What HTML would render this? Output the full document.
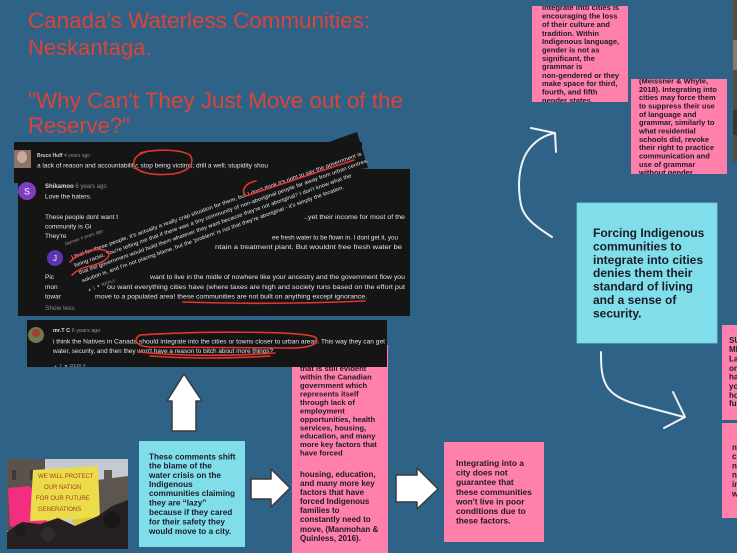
<!DOCTYPE html>
<html><head><meta charset="utf-8">
<style>
html,body{margin:0;padding:0;width:737px;height:553px;overflow:hidden;background:#2e6287;}
svg{display:block}
text{font-family:"Liberation Sans",Arial,sans-serif;}
.b{font-weight:bold;fill:#1b1b26}
.c{fill:#e4e4e4}
</style></head><body>
<svg width="737" height="553" viewBox="0 0 737 553" xmlns="http://www.w3.org/2000/svg">
<defs>
<clipPath id="cA"><rect x="532" y="6" width="96" height="96"/></clipPath>
<clipPath id="cB"><rect x="631" y="79" width="96" height="95"/></clipPath>
<clipPath id="cM"><rect x="27" y="320" width="360" height="47"/></clipPath>
</defs>
<rect width="737" height="553" fill="#2e6287"/>

<!-- Title -->
<g font-size="22" fill="#db4437">
<text x="28" y="28" textLength="342" lengthAdjust="spacingAndGlyphs">Canada's Waterless Communities:</text>
<text x="28" y="55">Neskantaga.</text>
<text x="28" y="108" textLength="375" lengthAdjust="spacingAndGlyphs">"Why Can't They Just Move out of the</text>
<text x="28" y="133">Reserve?"</text>
</g>

<!-- Pink box 1 (behind comment) -->
<rect x="292" y="345" width="96" height="215" fill="#ff80ab"/>
<g class="b" font-size="7.6">
<text class="b" x="300" y="371">that is still evident</text>
<text class="b" x="300" y="379.4">within the Canadian</text>
<text class="b" x="300" y="388">government which</text>
<text class="b" x="300" y="396.4">represents itself</text>
<text class="b" x="300" y="405">through lack of</text>
<text class="b" x="300" y="413.7">employment</text>
<text class="b" x="300" y="422">opportunities, health</text>
<text class="b" x="300" y="430.4">services, housing,</text>
<text class="b" x="300" y="438.7">education, and many</text>
<text class="b" x="300" y="447">more key factors that</text>
<text class="b" x="300" y="455.4">have forced</text>
</g>
<g font-size="8">
<text class="b" x="300" y="476.8">housing, education,</text>
<text class="b" x="300" y="485.8">and many more key</text>
<text class="b" x="300" y="494.8">factors that have</text>
<text class="b" x="300" y="503.8">forced Indigenous</text>
<text class="b" x="300" y="513.1">families to</text>
<text class="b" x="300" y="522.1">constantly need to</text>
<text class="b" x="300" y="531.8">move, (Manmohan &amp;</text>
<text class="b" x="300" y="540.8">Quinless, 2016).</text>
</g>

<!-- Comment screenshots -->
<polygon points="329,142 357,132 368,168 340,171" fill="#161616"/>
<rect x="14" y="142" width="348" height="41" fill="#151515"/>
<rect x="18" y="169" width="392" height="147" fill="#151515"/>
<rect x="14" y="150" width="17" height="18" fill="#8a7468"/>
<ellipse cx="22" cy="157" rx="5" ry="6" fill="#c9a79a"/>
<text x="37" y="157" font-size="5" fill="#cfcfcf" font-weight="bold">Bruce Huff <tspan fill="#8c8c8c" font-weight="normal">4 years ago</tspan></text>
<text x="37" y="167.5" font-size="6.3" class="c" textLength="231" lengthAdjust="spacingAndGlyphs">a lack of reason and accountability;  stop being victims;  drill a well;  stupidity shou</text>

<circle cx="27" cy="191" r="9" fill="#7e3fbf"/>
<text x="27" y="194.5" font-size="9" fill="#fff" text-anchor="middle">S</text>
<text x="45" y="188" font-size="6" fill="#d8d8d8" font-weight="bold">Shikamoo <tspan fill="#8c8c8c" font-weight="normal">6 years ago</tspan></text>
<g font-size="6.5">
<text class="c" x="45" y="198.5">Love the haters.</text>
<text class="c" x="45" y="219">These people dont want t</text>
<text class="c" x="304" y="219" textLength="101" lengthAdjust="spacingAndGlyphs">..yet their income for most of the</text>
<text class="c" x="45" y="228.5">community is Gi</text>
<text class="c" x="45" y="238">They're</text>
<text class="c" x="272" y="239.5" textLength="126" lengthAdjust="spacingAndGlyphs">ee fresh water to be flown in.  I dont get it, you</text>
<text class="c" x="215" y="249" textLength="187" lengthAdjust="spacingAndGlyphs">ntain a treatment plant.  But wouldnt free fresh water be</text>
<text class="c" x="45" y="279">Pic</text>
<text class="c" x="150" y="279" textLength="255" lengthAdjust="spacingAndGlyphs">want to live in the midle of nowhere like your ancestry and the government flow you</text>
<text class="c" x="45" y="289">mon</text>
<text class="c" x="107" y="289" textLength="298" lengthAdjust="spacingAndGlyphs">ou want everything cities have (where taxes are high and society runs based on the effort put</text>
<text class="c" x="45" y="298.5">towar</text>
<text class="c" x="95" y="298.5" textLength="272" lengthAdjust="spacingAndGlyphs">move to a populated area! these communities are not built on anything except ignorance.</text>
<text x="45" y="310" fill="#8a8a8a">Show less</text>
</g>

<circle cx="55" cy="258" r="8" fill="#5e35b1"/>
<text x="55" y="261" font-size="8" fill="#fff" text-anchor="middle">J</text>
<g transform="translate(72,259) rotate(-19.7)">
<text x="-2" y="-15" font-size="4.5" fill="#9a9a9a">Jayman 4 years ago</text>
<g font-size="5.3">
<text class="c" x="0" y="0" textLength="308" lengthAdjust="spacingAndGlyphs">I feel for these people, it's actually a really crap situation for them, but I don't think it's right to say the government is</text>
<text class="c" x="0" y="8.5" textLength="312" lengthAdjust="spacingAndGlyphs">being racist. You're telling me that if there was a tiny community of non-aboriginal people far away from urban centres,</text>
<text class="c" x="2" y="17" textLength="289" lengthAdjust="spacingAndGlyphs">that the government would build them whatever they want because they're not aboriginal? I don't know what the</text>
<text class="c" x="2" y="25.5" textLength="278" lengthAdjust="spacingAndGlyphs">solution is, and I'm not placing blame, but the 'problem' is not that they're aboriginal - it's simply the location.</text>
</g>
<text x="4" y="36" font-size="4.5" fill="#9a9a9a">▲ 1    ▼      REPLY</text>
</g>

<!-- second comment -->
<rect x="27" y="320" width="360" height="47" fill="#151515"/>
<circle cx="36" cy="335" r="8" fill="#6f7b4c"/>
<circle cx="36" cy="333" r="4" fill="#a04030"/>
<text x="53" y="332" font-size="5.5" fill="#ddd" font-weight="bold">mr.T C <tspan fill="#999" font-weight="normal">6 years ago</tspan></text>
<g font-size="6.5">
<text class="c" x="53" y="343.5" textLength="332" lengthAdjust="spacingAndGlyphs">i think the Natives in Canada should integrate into the cities or towns closer to urban areas. This way they can get</text>
<text class="c" x="53" y="353" textLength="220" lengthAdjust="spacingAndGlyphs">water, security, and then they won't have a reason to bitch about more things?</text>
</g>
<g clip-path="url(#cM)"><text x="53" y="368" font-size="5" fill="#999">▲ 1   ▼    REPLY</text></g>

<!-- red annotations -->
<g fill="none" stroke="#e0362c" stroke-width="1.6" stroke-linecap="round">
<path d="M140,153 C155,149 180,149 190,155 C195,162 190,172 172,174 C152,176 136,172 134,165 C133,158 138,154 146,152"/>
<path d="M256,181 C246,183 240,190 246,196 L354,160"/>
<path d="M70,262 C80,252 100,246 108,252 C112,258 100,264 90,266 C80,268 75,272 72,275"/>
<path d="M183,302 Q270,305 365,301"/>
<path d="M140,335 C200,331 300,331 315,337 C321,343 312,348 290,348 L150,347 C135,346 133,339 140,335"/>
<path d="M138,352 Q200,358 275,353"/>
<path d="M150,356 Q205,360 270,356"/>
</g>

<!-- Up arrow -->
<polygon points="184,374 202,401 196,401 196,431 172,431 172,401 167,401" fill="#fff" stroke="#3a3a3a" stroke-width="1.5" stroke-linejoin="round"/>
<!-- Right arrows -->
<polygon points="251,479 271,479 271,469 290,488 271,507 271,499 251,499" fill="#fff" stroke="#3a3a3a" stroke-width="1.5" stroke-linejoin="round"/>
<polygon points="396,475 417,475 417,468 438,489 417,509 417,502 396,502" fill="#fff" stroke="#3a3a3a" stroke-width="1.5" stroke-linejoin="round"/>

<!-- Photo -->
<g>
<rect x="7" y="459" width="121" height="90" fill="#c5c9d2"/>
<rect x="7" y="459" width="38" height="72" fill="#5a524c"/>
<rect x="12" y="470" width="4" height="10" fill="#3f3935"/>
<rect x="30" y="470" width="4" height="10" fill="#3f3935"/>
<polygon points="98,480 128,476 128,549 98,549" fill="#5d5650"/>
<rect x="104" y="470" width="8" height="12" fill="#5d5650"/>
<polygon points="8,488 30,486 52,531 10,526" fill="#f22e7e"/>
<polygon points="33,470 98,466 100,518 30,521" fill="#ecdc4a"/>
<g font-size="6" fill="#a04020" font-family="Liberation Sans">
<text x="38" y="478">WE WILL PROTECT</text>
<text x="44" y="489">OUR NATION</text>
<text x="36" y="500">FOR OUR FUTURE</text>
<text x="38" y="511">GENERATIONS</text>
</g>
<polygon points="72,520 92,517 96,538 80,541" fill="#dcc53a"/>
<path d="M7,532 L22,522 L40,524 L58,518 L75,526 L98,516 L112,506 L128,500 L128,549 L7,549 Z" fill="#262022"/>
<circle cx="20" cy="530" r="6" fill="#1e1a1b"/>
<circle cx="48" cy="534" r="7" fill="#332a2c"/>
<circle cx="112" cy="520" r="9" fill="#1c1819"/>
</g>

<!-- Cyan box 1 -->
<rect x="139" y="441" width="106" height="106" fill="#80deea"/>
<g font-size="8.2">
<text class="b" x="149" y="459.5">These comments shift</text>
<text class="b" x="149" y="468.5">the blame of the</text>
<text class="b" x="149" y="477.8">water crisis on the</text>
<text class="b" x="149" y="487">Indigenous</text>
<text class="b" x="149" y="496">communities claiming</text>
<text class="b" x="149" y="505.5">they are “lazy”</text>
<text class="b" x="149" y="514.8">because if they cared</text>
<text class="b" x="149" y="524.5">for their safety they</text>
<text class="b" x="149" y="533.8">would move to a city.</text>
</g>

<!-- Pink box 2 -->
<rect x="444" y="442" width="100" height="100" fill="#ff80ab"/>
<g font-size="8.4">
<text class="b" x="456" y="466.2">Integrating into a</text>
<text class="b" x="456" y="475.6">city does not</text>
<text class="b" x="456" y="485.2">guarantee that</text>
<text class="b" x="456" y="494.9">these communities</text>
<text class="b" x="456" y="504.6">won't live in poor</text>
<text class="b" x="456" y="513.9">conditions due to</text>
<text class="b" x="456" y="523.6">these factors.</text>
</g>

<!-- Top pink A -->
<rect x="532" y="6" width="96" height="96" fill="#ff80ab"/>
<g clip-path="url(#cA)" font-size="7.5">
<text class="b" x="542" y="9.8">integrate into cities is</text>
<text class="b" x="542" y="18.5">encouraging the loss</text>
<text class="b" x="542" y="27.2">of their culture and</text>
<text class="b" x="542" y="35.8">tradition. Within</text>
<text class="b" x="542" y="44.2">Indigenous language,</text>
<text class="b" x="542" y="52.5">gender is not as</text>
<text class="b" x="542" y="60.8">significant, the</text>
<text class="b" x="542" y="69.2">grammar is</text>
<text class="b" x="542" y="77.8">non-gendered or they</text>
<text class="b" x="542" y="86.2">make space for third,</text>
<text class="b" x="542" y="94.5">fourth, and fifth</text>
<text class="b" x="542" y="102.8">gender states.</text>
</g>

<!-- Top pink B -->
<rect x="631" y="79" width="96" height="95" fill="#ff80ab"/>
<g clip-path="url(#cB)" font-size="7.5">
<text class="b" x="639" y="83.5">(Meissner &amp; Whyte,</text>
<text class="b" x="639" y="91.8">2018). Integrating into</text>
<text class="b" x="639" y="100.2">cities may force them</text>
<text class="b" x="639" y="108.5">to suppress their use</text>
<text class="b" x="639" y="116.8">of language and</text>
<text class="b" x="639" y="125.2">grammar, similarly to</text>
<text class="b" x="639" y="133.5">what residential</text>
<text class="b" x="639" y="141.8">schools did, revoke</text>
<text class="b" x="639" y="150.2">their right to practice</text>
<text class="b" x="639" y="158.5">communication and</text>
<text class="b" x="639" y="166.8">use of grammar</text>
<text class="b" x="639" y="175.2">without gender</text>
</g>

<!-- right edge image strip -->
<rect x="733" y="0" width="4" height="162" fill="#5c4c3e"/>
<rect x="733" y="40" width="4" height="30" fill="#8a7a66"/>
<rect x="733" y="110" width="4" height="25" fill="#3e342c"/>

<!-- Cyan box 2 -->
<rect x="577" y="203" width="140" height="140" fill="#80deea" stroke="#74cfdc" stroke-width="0.8"/>
<g font-size="12">
<text class="b" x="593" y="237">Forcing Indigenous</text>
<text class="b" x="593" y="250.4">communities to</text>
<text class="b" x="593" y="263.8">integrate into cities</text>
<text class="b" x="593" y="277.2">denies them their</text>
<text class="b" x="593" y="290.6">standard of living</text>
<text class="b" x="593" y="304">and a sense of</text>
<text class="b" x="593" y="317.4">security.</text>
</g>

<!-- Right edge pink boxes -->
<rect x="722" y="325" width="20" height="95" fill="#ff80ab"/>
<g font-size="8">
<text class="b" x="729" y="343">SUPPORT</text>
<text class="b" x="729" y="352">MEANS</text>
<text class="b" x="729" y="361.5">Languages</text>
<text class="b" x="729" y="371">or</text>
<text class="b" x="729" y="379.5">have</text>
<text class="b" x="729" y="388.8">your</text>
<text class="b" x="729" y="397.8">home</text>
<text class="b" x="729" y="406">future</text>
</g>
<rect x="722" y="423" width="20" height="95" fill="#ff80ab"/>
<g font-size="8">
<text class="b" x="732" y="449.8">not</text>
<text class="b" x="732" y="459.1">can</text>
<text class="b" x="732" y="468.4">need</text>
<text class="b" x="732" y="477.7">not</text>
<text class="b" x="732" y="487">in</text>
<text class="b" x="732" y="496.3">with</text>
</g>

<!-- white hand-drawn arrows -->
<g fill="none" stroke="#f2f2f2" stroke-width="2" stroke-linecap="round" stroke-linejoin="round">
<path d="M552,237 C535,226 524,218 521,205 C517,185 519,165 527,152 C535,140 545,135 555,133"/>
<path d="M531,128 L555,133 L556,152"/>
<path d="M601,352 C601,365 601,378 608,388 C617,400 635,404 650,408 L684,417"/>
<path d="M673,392 L685,417 L664,428"/>
</g>
</svg>
</body></html>
